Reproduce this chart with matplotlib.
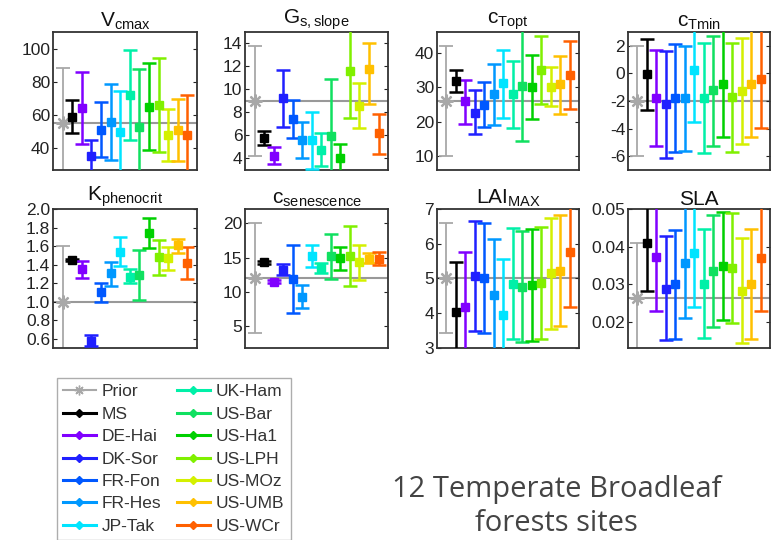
import numpy as np
import matplotlib.pyplot as plt
from matplotlib.lines import Line2D

plt.rcParams['font.family'] = ['Liberation Sans', 'DejaVu Sans']
plt.rcParams['mathtext.fontset'] = 'custom'
plt.rcParams['mathtext.rm'] = 'Liberation Sans'
plt.rcParams['mathtext.it'] = 'Liberation Sans'
plt.rcParams['axes.unicode_minus'] = False

# first entry = prior, second = multi-site, then the 12 sites
labels = ['Prior', 'MS', 'DE-Hai', 'DK-Sor', 'FR-Fon', 'FR-Hes', 'JP-Tak',
          'UK-Ham', 'US-Bar', 'US-Ha1', 'US-LPH', 'US-MOz', 'US-UMB', 'US-WCr']
colors = ['#a8a8a8', '#000000', '#8000ff', '#2020ff', '#0058ff', '#0098ff',
          '#00e4ff', '#00f0a8', '#10e060', '#00d000', '#80f000', '#d4f000',
          '#ffc000', '#ff6000']

vcmax    = [55, 59, 64, 35.4, 51.3, 56, 50, 72, 53, 64.6, 66, 48, 51.3, 48.3]
vcmax_lo = [20, 49, 42.4, 25, 34.7, 33.1, 20, 45.3, 20, 38.8, 37.8, 32.7, 32.7, 20]
vcmax_hi = [88.3, 69, 85.7, 45.3, 68, 78.8, 74.7, 99, 87.7, 91.3, 94.3, 63.6, 69.7, 72]

gs    = [9.0, 5.74, 4.2, 9.26, 7.44, 5.6, 5.6, 4.72, 5.95, 4.0, 11.6, 8.58, 11.75, 6.18]
gs_lo = [4.2, 5.16, 3.49, 6.77, 5.74, 4.0, 3.1, 3.34, 2.0, 2.0, 7.5, 6.62, 8.73, 4.37]
gs_hi = [13.8, 6.4, 4.98, 11.7, 9.1, 7.15, 8.0, 6.18, 10.87, 5.3, 16, 10.57, 14.03, 7.9]

topt    = [26, 31.7, 26, 22.6, 24.8, 27.9, 31.1, 27.9, 30.3, 30.1, 35.1, 30.1, 30.8, 33.5]
topt_lo = [10, 28.6, 19.4, 16.3, 18.4, 18.9, 21.1, 18.2, 14.3, 20.9, 25.2, 24.5, 22.3, 23.6]
topt_hi = [42, 35.1, 32.2, 29.1, 31.4, 36.7, 40.8, 37.7, 48, 39.2, 44.7, 35.9, 39, 43.5]

tmin    = [-2.0, -0.08, -1.77, -2.25, -1.77, -1.77, 0.28, -1.82, -1.21, -0.8, -1.74, -1.26, -0.8, -0.42]
tmin_lo = [-6.0, -2.66, -5.27, -6.16, -5.68, -5.6, -3.5, -5.8, -5.27, -4.64, -5.68, -5.13, -4.6, -3.99]
tmin_hi = [2.0, 2.48, 1.69, 1.61, 2.12, 2.0, 3.5, 2.17, 2.72, 3.3, 2.17, 2.53, 3.2, 3.4]

kphen    = [1.0, 1.45, 1.35, 0.57, 1.10, 1.31, 1.54, 1.27, 1.29, 1.74, 1.48, 1.47, 1.61, 1.42]
kphen_lo = [0.4, 1.44, 1.26, 0.52, 1.0, 1.17, 1.38, 1.2, 1.02, 1.58, 1.29, 1.34, 1.52, 1.24]
kphen_hi = [1.6, 1.46, 1.44, 0.64, 1.2, 1.43, 1.70, 1.35, 1.56, 1.90, 1.66, 1.59, 1.68, 1.59]

csen    = [12.0, 14.3, 11.5, 13.2, 11.9, 9.3, 15.3, 13.5, 15.3, 14.9, 15.3, 14.3, 14.8, 14.8]
csen_lo = [4.0, 14.1, 11.3, 12.5, 6.9, 7.6, 13.6, 12.7, 11.9, 13.2, 10.8, 11.7, 14.2, 13.9]
csen_hi = [20.0, 14.5, 11.7, 14.0, 16.8, 11.0, 16.8, 14.2, 18.5, 16.6, 19.6, 16.9, 15.7, 15.8]

lai    = [5.0, 4.03, 4.19, 5.08, 5.0, 4.53, 3.96, 4.83, 4.76, 4.8, 4.87, 5.15, 5.21, 5.76]
lai_lo = [3.42, 2.8, 2.8, 3.5, 3.42, 2.8, 2.8, 3.25, 3.16, 3.2, 3.27, 3.54, 3.62, 4.17]
lai_hi = [6.6, 5.46, 5.76, 6.65, 6.59, 6.15, 5.56, 6.46, 6.36, 6.41, 6.48, 6.73, 6.82, 7.3]

sla    = [0.0262, 0.0409, 0.0371, 0.0287, 0.0299, 0.0355, 0.0384, 0.030, 0.0335, 0.0348, 0.0344, 0.0282, 0.030, 0.0369]
sla_lo = [0.011, 0.0281, 0.0228, 0.015, 0.0154, 0.021, 0.0239, 0.0157, 0.0187, 0.0204, 0.0197, 0.0144, 0.0154, 0.0228]
sla_hi = [0.0409, 0.055, 0.053, 0.0429, 0.0445, 0.0505, 0.0505, 0.0446, 0.0485, 0.0492, 0.049, 0.0422, 0.0446, 0.053]

panels = [
    (r'$\mathrm{V}_{\mathrm{cmax}}$', vcmax, vcmax_lo, vcmax_hi, (27, 110), [40, 60, 80, 100], '%d'),
    (r'$\mathrm{G}_{\mathrm{s,slope}}$', gs, gs_lo, gs_hi, (3, 15), [4, 6, 8, 10, 12, 14], '%d'),
    (r'$\mathrm{c}_{\mathrm{Topt}}$', topt, topt_lo, topt_hi, (6, 46), [10, 20, 30, 40], '%d'),
    (r'$\mathrm{c}_{\mathrm{Tmin}}$', tmin, tmin_lo, tmin_hi, (-7, 3), [-6, -4, -2, 0, 2], '%d'),
    (r'$\mathrm{K}_{\mathrm{phenocrit}}$', kphen, kphen_lo, kphen_hi, (0.5, 2.0),
     [0.6, 0.8, 1.0, 1.2, 1.4, 1.6, 1.8, 2.0], '%.1f'),
    (r'$\mathrm{c}_{\mathrm{senescence}}$', csen, csen_lo, csen_hi, (1.8, 22.1), [5, 10, 15, 20], '%d'),
    (r'$\mathrm{LAI}_{\mathrm{MAX}}$', lai, lai_lo, lai_hi, (3, 7), [3, 4, 5, 6, 7], '%d'),
    ('SLA', sla, sla_lo, sla_hi, (0.013, 0.05), [0.02, 0.03, 0.04, 0.05], '%.2f'),
]

fig = plt.figure(figsize=(7.73, 5.40), dpi=100)

lefts = [0.0686, 0.317, 0.5653, 0.8124]
widths = [0.1863, 0.185, 0.1837, 0.1837]
bottoms = [0.6852, 0.3556]
heights = [0.2556, 0.2574]

x = np.arange(1, len(labels) + 1)

for k, (title, mid, lo, hi, ylim, ticks, fmt) in enumerate(panels):
    r, c = divmod(k, 4)
    ax = fig.add_axes([lefts[c], bottoms[r], widths[c], heights[r]])
    mid = np.asarray(mid)
    lo = np.asarray(lo)
    hi = np.asarray(hi)
    ax.axhline(mid[0], color='#999999', lw=1.5, zorder=1)
    for i in range(len(labels)):
        if i == 0:
            ax.errorbar(x[i], mid[i], yerr=[[mid[i] - lo[i]], [hi[i] - mid[i]]],
                        fmt='none', ecolor=colors[i], elinewidth=1.3, capsize=5,
                        capthick=1.3, zorder=2)
            ax.plot(x[i], mid[i], marker=(8, 2, 0), ms=10, mew=1.6,
                    color=colors[i], ls='none', zorder=3)
        else:
            ax.errorbar(x[i], mid[i], yerr=[[mid[i] - lo[i]], [hi[i] - mid[i]]],
                        fmt='s', color=colors[i], ms=5.5, elinewidth=1.8,
                        capsize=4.8, capthick=1.8, zorder=3)
    ax.set_xlim(0, 15)
    ax.set_ylim(*ylim)
    ax.set_xticks([])
    ax.set_yticks(ticks)
    ax.set_yticklabels([fmt % t for t in ticks])
    ax.tick_params(axis='y', direction='in', right=True, left=True, length=3,
                   width=0.8, labelsize=12.5, colors='#222222', pad=2)
    for sp in ax.spines.values():
        sp.set_color('#333333')
        sp.set_linewidth(1.3)
    ax.set_title(title, fontsize=15, pad=2, color='#111111')

# legend with one entry per series
handles = []
for i, lab in enumerate(labels):
    if i == 0:
        h = Line2D([], [], color=colors[i], marker=(8, 2, 0), ms=7, lw=1.5)
    else:
        h = Line2D([], [], color=colors[i], marker='D', ms=4.5, lw=2.2)
    handles.append(h)
leg = fig.legend(handles, labels, loc='upper left', bbox_to_anchor=(0.062, 0.316),
                 ncol=2, fontsize=12.5, frameon=True, fancybox=False,
                 edgecolor='#999999', handlelength=1.9, handletextpad=0.35,
                 columnspacing=0.9, labelspacing=0.42, borderpad=0.35)
leg.get_frame().set_linewidth(1.0)
for t in leg.get_texts():
    t.set_color('#333333')

fig.text(0.72, 0.062, '12 Temperate Broadleaf\nforests sites', ha='center',
         va='center', fontsize=21, color='#444444', family='Open Sans',
         linespacing=1.2)

fig.savefig('out.png', dpi=100)
